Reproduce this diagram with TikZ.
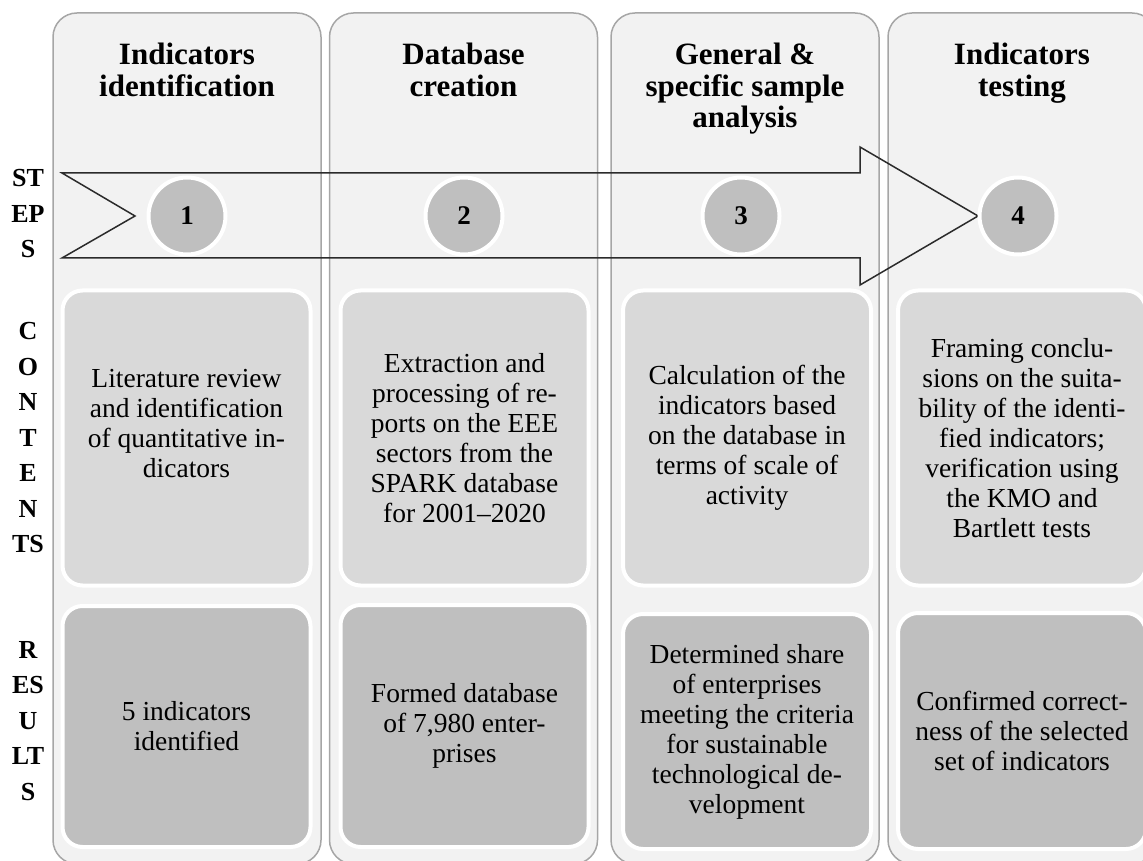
\documentclass[tikz,border=0pt]{standalone}
\usepackage{fontspec}
\setmainfont{Liberation Serif}
\usepackage{xcolor}
\usepackage{tikz}
\definecolor{colfill}{HTML}{F2F2F2}
\definecolor{colline}{HTML}{A6A6A6}
\definecolor{boxlight}{HTML}{D9D9D9}
\definecolor{boxdark}{HTML}{BFBFBF}
\definecolor{arrowline}{HTML}{2B2B2B}

\begin{document}
\begin{tikzpicture}[x=0.5pt,y=-0.5pt,node distance=138.5pt,
	column node/.style={draw=colline, fill=colfill, line width=0.75pt, rounded corners=12pt, minimum width=134pt, minimum height=425.5pt, inner sep=0pt},
	head node/.style={font=\fontsize{15.5}{15.6}\selectfont\bfseries, align=center, anchor=north, inner sep=0pt},
	step node/.style={circle, draw=white, line width=2pt, fill=boxdark, minimum size=38.5pt, inner sep=0pt, font=\fontsize{13.5}{14}\selectfont\bfseries},
	content node/.style={draw=white, line width=2pt, fill=boxlight, rounded corners=10pt, align=center, inner sep=0pt, minimum width=124pt, minimum height=147.5pt, font=\fontsize{13.75}{15}\selectfont},
	result node/.style={content node, fill=boxdark},
	side node/.style={font=\fontsize{13}{17.75}\selectfont\bfseries, align=center, inner sep=0pt}]
	\useasboundingbox (0,0) rectangle (1143,860);
	\clip (0,0) rectangle (1143,860);
	
	% Columns
	\node[column node] (c1) at (187,438.5) {};
	\node[column node] (c2) at (463.5,438.5) {};
	\node[column node] (c3) at (745,438.5) {};
	\node[column node] (c4) at (1022,438.5) {};
	
	% Headers
	\node[head node] (h1) at (187,43) {Indicators\\identification};
	\node[head node] (h2) at (463.5,43) {Database\\creation};
	\node[head node] (h3) at (745,43) {General \&\\specific sample\\analysis};
	\node[head node] (h4) at (1022,43) {Indicators\\testing};
	
	% Arrow
	\draw[arrowline, line width=0.75pt] (62,173) -- (860,173) -- (860,147) -- (978,216) -- (860,285) -- (860,258) -- (62,258) -- (135,216) -- cycle;
	
	% Steps
	\node[step node] (1) at (187,216) {1};
	\node[step node] (2) [right of=1] {2};
	\node[step node] (3) [right of=2] {3};
	\node[step node] (4) [right of=3] {4};
	
	% Contents
	\node[content node] (k1) at (186.5,438) {Literature review\\and identification\\of quantitative in-\\dicators\\\mbox{}};
	\node[content node] (k2) at (464.5,438) {Extraction and\\processing of re-\\ports on the EEE\\sectors from the\\SPARK database\\for 2001--2020};
	\node[content node] (k3) at (747,438) {Calculation of the\\indicators based\\on the database in\\terms of scale of\\activity};
	\node[content node] (k4) at (1022,438) {Framing conclu-\\sions on the suita-\\bility of the identi-\\fied indicators;\\verification using\\the KMO and\\Bartlett tests};
	
	% Results
	\node[result node, minimum height=120.5pt] (r1) at (186.5,726.5) {5 indicators\\identified};
	\node[result node, minimum height=121pt] (r2) at (464.5,726) {Formed database\\of 7,980 enter-\\prises};
	\node[result node, minimum height=117.5pt] (r3) at (747,731.5) {Determined share\\of enterprises\\meeting the criteria\\for sustainable\\technological de-\\velopment};
	\node[result node, minimum height=118pt] (r4) at (1022,731) {Confirmed correct-\\ness of the selected\\set of indicators};
	
	% Row labels
	\node[side node] (st) at (28,214) {ST\\EP\\S};
	\node[side node] (ct) at (28,438) {C\\O\\N\\T\\E\\N\\TS};
	\node[side node] (rs) at (28,721) {R\\ES\\U\\LT\\S};
	
\end{tikzpicture}
\end{document}
